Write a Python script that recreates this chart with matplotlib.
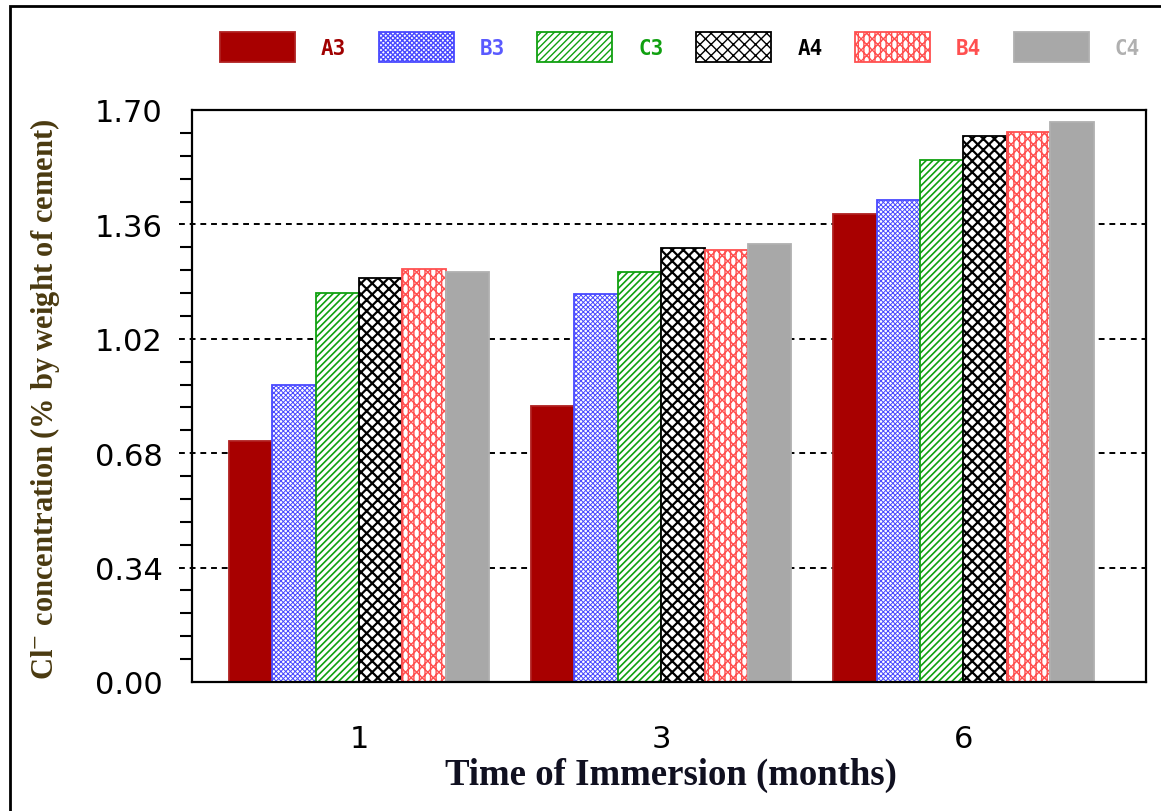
import matplotlib
matplotlib.use("Agg")
import matplotlib.pyplot as plt
import numpy as np
from matplotlib.patches import Rectangle
from matplotlib.ticker import MultipleLocator, FuncFormatter

# Chloride content per mix at each immersion age
months = ["1", "3", "6"]
mixes = ["A3", "B3", "C3", "A4", "B4", "C4"]
A3 = [0.715, 0.821, 1.391]
B3 = [0.882, 1.153, 1.434]
C3 = [1.155, 1.218, 1.552]
A4 = [1.200, 1.289, 1.623]
B4 = [1.228, 1.283, 1.634]
C4 = [1.218, 1.302, 1.665]
series = [A3, B3, C3, A4, B4, C4]

y_major = [0.00, 0.34, 0.68, 1.02, 1.36, 1.70]

# style per mix: face, edge/hatch colour, hatch, hatch width, label colour
styles = [
    dict(face="#a80000", edge="#b02020", hatch=None, hlw=1.0, text="#a00000"),
    dict(face="white", edge="#4a4aff", hatch="xxxxxxx", hlw=0.7, text="#5a5aff"),
    dict(face="white", edge="#10a010", hatch="/////", hlw=1.2, text="#10a010"),
    dict(face="white", edge="black", hatch="xxx", hlw=1.6, text="black"),
    dict(face="white", edge="#ff5050", hatch="xxx|||", hlw=1.0, text="#ff5050"),
    dict(face="#a8a8a8", edge="#b0b0b0", hatch=None, hlw=1.0, text="#b0b0b0"),
]

plt.rcParams["mathtext.fontset"] = "stix"

fig = plt.figure(figsize=(11.61, 8.12), dpi=100)
ax = fig.add_axes([192 / 1161, 1 - 683 / 812, 954 / 1161, 572 / 812])

x = np.arange(len(months))
w = 0.1436
handles = []
for i, (vals, st) in enumerate(zip(series, styles)):
    with plt.rc_context({"hatch.linewidth": st["hlw"]}):
        bars = ax.bar(x + (i - 2.5) * w, vals, width=w,
                      facecolor=st["face"], edgecolor=st["edge"],
                      hatch=st["hatch"], linewidth=1.3, zorder=2,
                      label=mixes[i])
    handles.append(bars)

ax.set_xlim(-0.5525, 2.604)
ax.set_ylim(0, 1.70)

# dotted gridlines, extended slightly left of the axis as tick stubs
for v in y_major[1:-1]:
    ax.axhline(v, xmin=-0.014, xmax=1, color="black", linestyle=(0, (3, 2.5)),
               linewidth=1.4, zorder=0, clip_on=False)

ax.set_xticks(x)
ax.set_xticklabels(months)
ax.set_yticks(y_major)
ax.yaxis.set_minor_locator(MultipleLocator(0.068))
ax.yaxis.set_major_formatter(FuncFormatter(lambda v, p: f"{v:.2f}"))
ax.tick_params(axis="x", length=0, pad=30, labelsize=22)
ax.tick_params(axis="y", which="major", length=0, pad=21, labelsize=22)
ax.tick_params(axis="y", which="minor", length=9, width=1.5, direction="out")
for lab in ax.get_xticklabels() + ax.get_yticklabels():
    lab.set_fontfamily("DejaVu Sans")

for sp in ax.spines.values():
    sp.set_linewidth(1.6)
    sp.set_color("black")

ax.set_xlabel("Time of Immersion (months)", fontfamily="Liberation Serif",
              fontweight="bold", fontsize=26.5, color="#101020")
ax.xaxis.label.set_va("center")
ax.xaxis.set_label_coords(0.502, -0.161)

ax.set_ylabel("Cl$^{-}$ concentration (% by weight of cement)",
              fontfamily="Liberation Serif", fontweight="bold", fontsize=22,
              color="#4a3a10")
ax.yaxis.label.set_va("center")
ax.yaxis.set_label_coords(-0.154, 0.495)

leg = fig.legend(handles=handles, labels=mixes, ncol=6, loc="center",
                 bbox_to_anchor=(680 / 1161, 1 - 48 / 812), frameon=False,
                 prop=dict(family="DejaVu Sans Mono", weight="bold", size=15),
                 handlelength=3.6, handleheight=1.9, handletextpad=1.25,
                 columnspacing=1.56, borderpad=0.2)
for t, st in zip(leg.get_texts(), styles):
    t.set_color(st["text"])

# outer frame around the figure
fig.patches.append(Rectangle((10 / 1161, -0.1), 1.2, 1.1 - 7 / 812,
                             transform=fig.transFigure, fill=False,
                             edgecolor="black", linewidth=2, clip_on=False))

fig.savefig("out.png", dpi=100)
